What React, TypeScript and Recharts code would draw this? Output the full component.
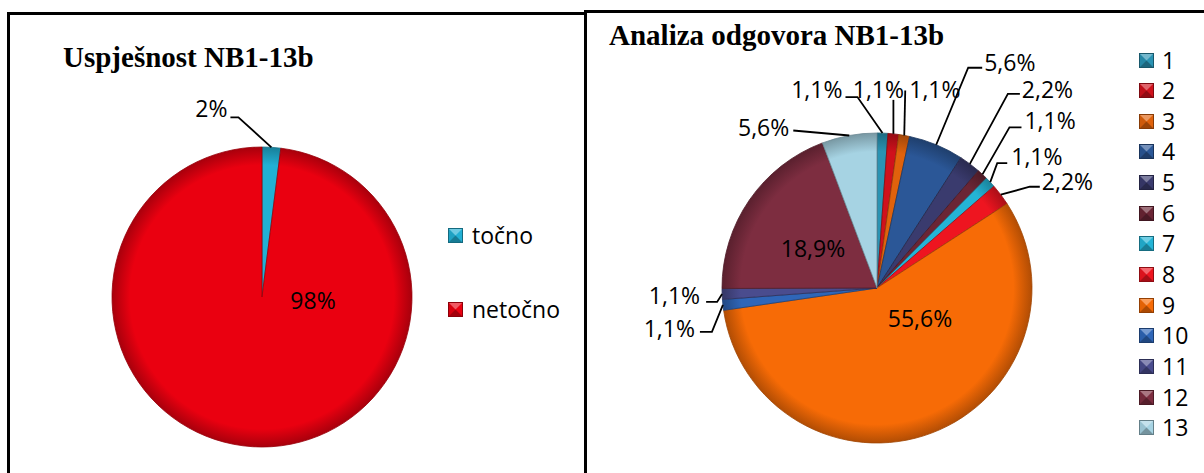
import { PieChart, Pie, Cell, Legend } from 'recharts';

// Uspješnost NB1-13b
const RESULT_NAMES = ['točno', 'netočno'];
const RESULT_VALUES = [2, 98];
const RESULT_COLORS = ['#22B0D4', '#EA0010'];

// Analiza odgovora NB1-13b
const ANSWER_NAMES = ['1', '2', '3', '4', '5', '6', '7', '8', '9', '10', '11', '12', '13'];
const ANSWER_VALUES = [1.1, 1.1, 1.1, 5.6, 2.2, 1.1, 1.1, 2.2, 55.6, 1.1, 1.1, 18.9, 5.6];
const ANSWER_COLORS = [
  '#2A93B3', '#D0111C', '#E0620C', '#2B5797', '#3A3B6E', '#6B2535', '#24B4D6',
  '#EE1520', '#F76B06', '#2F66B8', '#4A4C8E', '#7D2D40', '#A6D3E3',
];

const FONT = '"Open Sans", sans-serif';
const RAD = Math.PI / 180;

type Lay = {
  inside?: boolean;
  ex?: number;
  ey?: number;
  tail?: number;
  tx: number;
  ty: number;
  anchor?: 'start' | 'middle' | 'end';
};

// label placement (elbow offset from the arc point, horizontal tail, text offset)
const RESULT_LAYOUT: Lay[] = [
  { ex: -33, ey: -30, tail: -8, tx: -3, ty: -9, anchor: 'end' },
  { inside: true, tx: 51, ty: 3 },
];

const ANSWER_LAYOUT: Lay[] = [
  { ex: -25, ey: -36, tail: -12, tx: -3, ty: -8, anchor: 'end' },
  { ex: 0, ey: -34, tail: 0, tx: -15, ty: -11, anchor: 'middle' },
  { ex: 1, ey: -45, tail: 0, tx: 4, ty: -1, anchor: 'start' },
  { ex: 32, ey: -77, tail: 14, tx: 2, ty: -6, anchor: 'start' },
  { ex: 38, ey: -70, tail: 12, tx: 2, ty: -5, anchor: 'start' },
  { ex: 27, ey: -47, tail: 12, tx: 3, ty: -7, anchor: 'start' },
  { ex: 7, ey: -19, tail: 10, tx: 4, ty: -7, anchor: 'start' },
  { ex: 29, ey: -8, tail: 10, tx: 2, ty: -6, anchor: 'start' },
  { inside: true, tx: 43, ty: 30 },
  { ex: -11, ey: 27, tail: -12, tx: -5, ty: -4, anchor: 'end' },
  { ex: -5, ey: 8, tail: -11, tx: -6, ty: -7, anchor: 'end' },
  { inside: true, tx: -64, ty: -40 },
  { ex: -56, ey: -5, tail: 0, tx: -4, ty: -4, anchor: 'end' },
];

function shade(hex: string, k: number) {
  const n = parseInt(hex.slice(1), 16);
  const r = Math.round(((n >> 16) & 255) * k);
  const g = Math.round(((n >> 8) & 255) * k);
  const b = Math.round((n & 255) * k);
  return `rgb(${r},${g},${b})`;
}

function makeLabel(layout: Lay[], fmt: (v: number) => string) {
  return (props: any) => {
    const { cx, cy, midAngle, outerRadius, index, value } = props;
    const l = layout[index];
    const txt = fmt(value);
    const textStyle = { fontFamily: FONT, fontSize: 23, fill: '#000' };
    if (l.inside) {
      return (
        <text x={cx + l.tx} y={cy + l.ty} textAnchor="middle" dominantBaseline="central" style={textStyle}>
          {txt}
        </text>
      );
    }
    const ax = cx + outerRadius * Math.cos(-midAngle * RAD);
    const ay = cy + outerRadius * Math.sin(-midAngle * RAD);
    const bx = ax + (l.ex || 0);
    const by = ay + (l.ey || 0);
    const ex = bx + (l.tail || 0);
    return (
      <g>
        <polyline points={`${ax},${ay} ${bx},${by} ${ex},${by}`} fill="none" stroke="#000" strokeWidth={1.8} />
        <text x={ex + l.tx} y={by + l.ty} textAnchor={l.anchor} dominantBaseline="central" style={textStyle}>
          {txt}
        </text>
      </g>
    );
  };
}

function Swatch({ color }: { color: string }) {
  return (
    <svg width={15} height={15} style={{ display: 'block', flex: 'none' }}>
      <rect x={0} y={0} width={15} height={15} fill={color} />
      <polygon points="0,0 15,0 7.5,7.5" fill="#fff" fillOpacity={0.35} />
      <polygon points="0,15 15,15 7.5,7.5" fill="#000" fillOpacity={0.3} />
      <polygon points="0,0 0,15 7.5,7.5" fill="#000" fillOpacity={0.08} />
      <rect x={0.5} y={0.5} width={14} height={14} fill="none" stroke={shade(color, 0.6)} strokeWidth={1} />
    </svg>
  );
}

function makeLegend(names: string[], colors: string[], rowH: number, gap: number) {
  return () => (
    <div>
      {names.map((n, i) => (
        <div key={n} style={{ height: rowH, display: 'flex', alignItems: 'center' }}>
          <Swatch color={colors[i]} />
          <span style={{ marginLeft: gap, fontFamily: FONT, fontSize: 23, color: '#000', lineHeight: '23px' }}>{n}</span>
        </div>
      ))}
    </div>
  );
}

function Gradients({ id, colors, cx, cy, r }: { id: string; colors: string[]; cx: number; cy: number; r: number }) {
  return (
    <defs>
      {colors.map((c, i) => (
        <radialGradient key={i} id={`${id}-${i}`} gradientUnits="userSpaceOnUse" cx={cx} cy={cy} r={r}>
          <stop offset="0%" stopColor={c} />
          <stop offset="88%" stopColor={c} />
          <stop offset="100%" stopColor={shade(c, 0.72)} />
        </radialGradient>
      ))}
    </defs>
  );
}

const resultData = RESULT_NAMES.map((name, i) => ({ name, value: RESULT_VALUES[i] }));
const answerData = ANSWER_NAMES.map((name, i) => ({ name, value: ANSWER_VALUES[i] }));

const titleStyle = {
  position: 'absolute' as const,
  fontFamily: '"Liberation Serif", "Times New Roman", serif',
  fontWeight: 700,
  fontSize: 29,
  lineHeight: '29px',
  whiteSpace: 'nowrap' as const,
  color: '#000',
};

export default function App() {
  return (
    <div style={{ position: 'absolute', left: 0, top: 0, width: 1204, height: 473, overflow: 'hidden', background: '#fff' }}>
      <div style={{ position: 'absolute', left: 7, top: 12, width: 600, height: 500, borderLeft: '3px solid #000', borderTop: '3px solid #000' }} />
      <div style={{ position: 'absolute', left: 584, top: 10, width: 700, height: 500, border: '3px solid #000', background: '#fff' }} />

      <div style={{ ...titleStyle, left: 63, top: 43 }}>Uspješnost NB1-13b</div>
      <div style={{ ...titleStyle, left: 609, top: 21 }}>Analiza odgovora NB1-13b</div>

      <div style={{ position: 'absolute', left: 0, top: 0 }}>
        <PieChart width={583} height={473} margin={{ top: 0, right: 0, bottom: 0, left: 0 }}>
          <Gradients id="res" colors={RESULT_COLORS} cx={262} cy={297} r={150} />
          <Pie
            data={resultData}
            dataKey="value"
            nameKey="name"
            cx={262}
            cy={297}
            outerRadius={150}
            startAngle={90}
            endAngle={-270}
            isAnimationActive={false}
            labelLine={false}
            label={makeLabel(RESULT_LAYOUT, (v) => `${Math.round(v)}%`)}
          >
            {resultData.map((d, i) => (
              <Cell key={d.name} fill={`url(#res-${i})`} stroke={shade(RESULT_COLORS[i], 0.65)} strokeWidth={0.8} />
            ))}
          </Pie>
          <Legend
            layout="vertical"
            align="right"
            verticalAlign="top"
            content={makeLegend(RESULT_NAMES, RESULT_COLORS, 74, 9)}
            wrapperStyle={{ left: 448, top: 198, width: 'auto' }}
          />
        </PieChart>
      </div>

      <div style={{ position: 'absolute', left: 584, top: 0 }}>
        <PieChart width={620} height={473} margin={{ top: 0, right: 0, bottom: 0, left: 0 }}>
          <Gradients id="ans" colors={ANSWER_COLORS} cx={293} cy={288} r={155} />
          <Pie
            data={answerData}
            dataKey="value"
            nameKey="name"
            cx={293}
            cy={288}
            outerRadius={155}
            startAngle={90}
            endAngle={-270}
            isAnimationActive={false}
            labelLine={false}
            label={makeLabel(ANSWER_LAYOUT, (v) => `${v.toFixed(1).replace('.', ',')}%`)}
          >
            {answerData.map((d, i) => (
              <Cell key={d.name} fill={`url(#ans-${i})`} stroke={shade(ANSWER_COLORS[i], 0.65)} strokeWidth={0.8} />
            ))}
          </Pie>
          <Legend
            layout="vertical"
            align="right"
            verticalAlign="top"
            content={makeLegend(ANSWER_NAMES, ANSWER_COLORS, 30.67, 8)}
            wrapperStyle={{ left: 555, top: 44.7, width: 'auto' }}
          />
        </PieChart>
      </div>
    </div>
  );
}
